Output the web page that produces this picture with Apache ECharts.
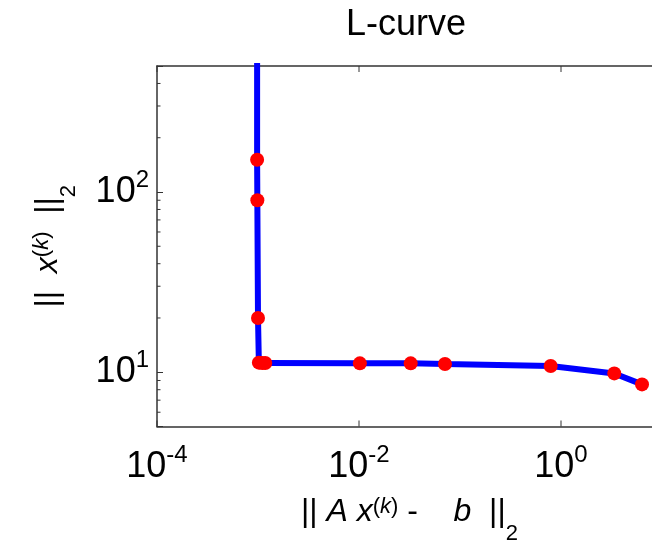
<!DOCTYPE html>
<html>
<head>
<meta charset="utf-8">
<script src="https://cdn.jsdelivr.net/npm/echarts@6/dist/echarts.min.js"></script>
<style>
  html, body { margin: 0; padding: 0; background: #fff; }
  #chart { width: 652px; height: 552px; }
</style>
</head>
<body>
<div id="chart"></div>
<script>
// L-curve: residual norm vs solution norm
const residualNorm = [9.8e-4, 9.8e-4, 9.85e-4, 1.0e-3, 1.02e-3, 1.1e-3, 1.18e-3, 0.0102, 0.0325, 0.071, 0.79, 3.37, 6.34];
const solutionNorm = [1500, 151, 90, 20, 11.3, 11.25, 11.25, 11.2, 11.2, 11.1, 10.84, 9.85, 8.56];
const xRange = [1e-4, 10];
const yRange = [5, 500];
const xMajorTicks = [1e-4, 1e-2, 1];
const yMinorTicks = [6, 7, 8, 9, 20, 30, 40, 50, 60, 70, 80, 90, 200, 300, 400];

const FONT = '"Liberation Sans", Arial, sans-serif';
const AXIS_COLOR = '#333';

const chart = echarts.init(document.getElementById('chart'));

const points = residualNorm.map((x, i) => [x, solutionNorm[i]]);

// 10^n labels, only on even decades for x
const powLabel = (v, evenOnly) => {
  const e = Math.round(Math.log10(v));
  if (Math.abs(Math.log10(v) - e) > 1e-6) return '';
  if (evenOnly && e % 2 !== 0) return '';
  return '{b|10}{s|' + e + '}';
};

// tokens are top-aligned; the top padding shifts each one down inside the line
const tickRich = {
  b: { fontSize: 36, lineHeight: 48, padding: [6, 0, 0, 0], verticalAlign: 'top', fontFamily: FONT, color: '#000' },
  s: { fontSize: 24, lineHeight: 48, verticalAlign: 'top', fontFamily: FONT, color: '#000' }
};

const nameRich = {
  n: { fontSize: 32, lineHeight: 50, padding: [2, 0, 0, 0], verticalAlign: 'top', fontFamily: FONT, color: '#000' },
  i: { fontSize: 32, lineHeight: 50, padding: [2, 0, 0, 0], verticalAlign: 'top', fontStyle: 'italic', fontFamily: FONT, color: '#000' },
  sp: { fontSize: 22, lineHeight: 50, padding: [1, 0, 0, 0], verticalAlign: 'top', fontFamily: FONT, color: '#000' },
  spi: { fontSize: 22, lineHeight: 50, padding: [1, 0, 0, 0], verticalAlign: 'top', fontStyle: 'italic', fontFamily: FONT, color: '#000' },
  sb: { fontSize: 22, lineHeight: 50, padding: [28, 0, 0, 0], verticalAlign: 'top', fontFamily: FONT, color: '#000' }
};

const axisLine = { show: true, lineStyle: { color: AXIS_COLOR, width: 1.5 } };

const option = {
  animation: false,
  backgroundColor: '#fff',
  title: {
    text: 'L-curve',
    left: 341,
    top: 2,
    textStyle: { fontSize: 36, fontWeight: 'normal', fontFamily: FONT, color: '#000' }
  },
  grid: { left: 157, top: 66, right: -10, bottom: 125.5, outerBoundsMode: 'none' },
  xAxis: [
    {
      type: 'log',
      min: xRange[0],
      max: xRange[1],
      position: 'bottom',
      axisLine: axisLine,
      axisTick: { show: false },
      splitLine: { show: false },
      axisLabel: { margin: 17, formatter: v => powLabel(v, true), rich: tickRich },
      name: '{n|||}{n| }{i|A}{n| }{i|x}{sp|(}{spi|k}{sp|)}{n| -    }{i|b}{n|  ||}{sb|2}',
      nameLocation: 'middle',
      nameGap: 68,
      nameTextStyle: { rich: nameRich }
    },
    {
      type: 'log',
      min: xRange[0],
      max: xRange[1],
      position: 'top',
      axisLine: axisLine,
      axisTick: { show: false },
      splitLine: { show: false },
      axisLabel: { show: false }
    }
  ],
  yAxis: {
    type: 'log',
    min: yRange[0],
    max: yRange[1],
    axisLine: axisLine,
    axisTick: { show: true, inside: true, length: 6, lineStyle: { color: AXIS_COLOR, width: 1 } },
    splitLine: { show: false },
    axisLabel: { margin: 8, formatter: v => powLabel(v, false), rich: tickRich },
    name: '{n|||}{n|  }{i|x}{sp|(}{spi|k}{sp|)}{n|  ||}{sb|2}',
    nameLocation: 'middle',
    nameGap: 77,
    nameTextStyle: { rich: nameRich }
  },
  series: [
    {
      type: 'line',
      data: points,
      clip: true,
      showAllSymbol: true,
      symbol: 'circle',
      symbolSize: 14,
      lineStyle: { color: '#0000ff', width: 6 },
      itemStyle: { color: '#ff0000' },
      z: 3
    },
    {
      // major x ticks, bottom and top, pointing inward
      type: 'custom',
      silent: true,
      clip: false,
      z: 5,
      data: xMajorTicks.map(v => [v, yRange[0]]),
      renderItem: (params, api) => {
        const cs = params.coordSys;
        const px = api.coord([api.value(0), api.value(1)])[0];
        const st = { stroke: AXIS_COLOR, lineWidth: 1 };
        return {
          type: 'group',
          children: [
            { type: 'line', shape: { x1: px, y1: cs.y + cs.height, x2: px, y2: cs.y + cs.height - 6 }, style: st },
            { type: 'line', shape: { x1: px, y1: cs.y, x2: px, y2: cs.y + 6 }, style: st }
          ]
        };
      }
    },
    {
      // minor y ticks on the left axis
      type: 'custom',
      silent: true,
      clip: false,
      z: 5,
      data: yMinorTicks.map(v => [xRange[0], v]),
      renderItem: (params, api) => {
        const cs = params.coordSys;
        const py = api.coord([api.value(0), api.value(1)])[1];
        return {
          type: 'line',
          shape: { x1: cs.x, y1: py, x2: cs.x + 3.5, y2: py },
          style: { stroke: AXIS_COLOR, lineWidth: 1 }
        };
      }
    }
  ]
};

chart.setOption(option);
window.addEventListener('resize', () => chart.resize());
</script>
</body>
</html>
